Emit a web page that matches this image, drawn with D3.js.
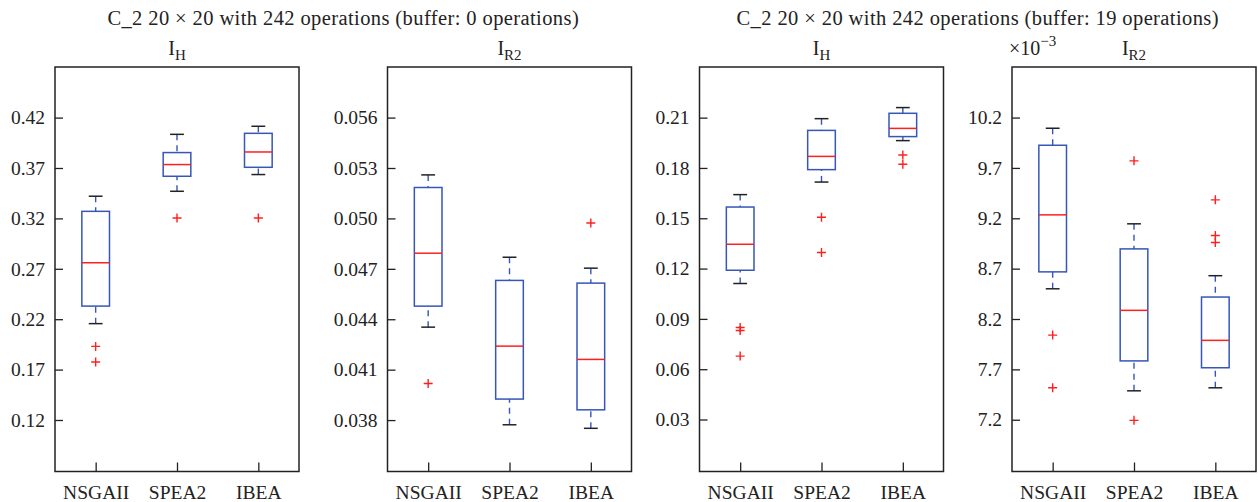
<!DOCTYPE html>
<html>
<head>
<meta charset="utf-8">
<script src="https://cdn.jsdelivr.net/npm/d3@7"></script>
<style>
  body { margin: 0; background: #fff; }
  text { font-family: "Liberation Serif", "DejaVu Serif", serif; fill: #222; }
</style>
</head>
<body>
<div id="chart"></div>
<script>
const width = 1258;
const height = 502;
const panelTop = 67;
const panelBottom = 471.5;
const panelWidth = 244;
const panelLefts = [55, 387.5, 699.5, 1012];

const categories = ["NSGAII", "SPEA2", "IBEA"];
const groupTitles = [
  "C_2 20 \u00d7 20 with 242 operations (buffer: 0 operations)",
  "C_2 20 \u00d7 20 with 242 operations (buffer: 19 operations)"
];

// [lower whisker, q1, median, q3, upper whisker] per algorithm
const ihBuf0 = [[0.2156, 0.233, 0.276, 0.327, 0.342], [0.3469, 0.3618, 0.3734, 0.3853, 0.4034], [0.3635, 0.3707, 0.3859, 0.4044, 0.4114]];
const ihBuf0Outliers = [[0.193, 0.1775], [0.3204], [0.3204]];
const ir2Buf0 = [[0.04353, 0.04478, 0.04793, 0.05184, 0.05259], [0.03772, 0.03925, 0.0424, 0.04631, 0.04769], [0.03751, 0.03861, 0.04161, 0.04615, 0.04704]];
const ir2Buf0Outliers = [[0.04018], [], [0.04973]];
const ihBuf19 = [[0.1111, 0.119, 0.1345, 0.1567, 0.1641], [0.1716, 0.179, 0.1869, 0.2024, 0.2094], [0.1963, 0.1987, 0.2036, 0.2126, 0.216]];
const ihBuf19Outliers = [[0.0849, 0.0831, 0.0678], [0.1506, 0.1296], [0.1877, 0.1822]];
// x 10^-3
const ir2Buf19 = [[8.50, 8.668, 9.234, 9.925, 10.094], [7.487, 7.784, 8.286, 8.896, 9.145], [7.517, 7.716, 7.988, 8.418, 8.63]];
const ir2Buf19Outliers = [[8.04, 7.517], [9.77, 7.194], [9.383, 9.029, 8.96]];

const ihBuf0Ticks = [0.12, 0.17, 0.22, 0.27, 0.32, 0.37, 0.42];
const ir2Buf0Ticks = [0.038, 0.041, 0.044, 0.047, 0.050, 0.053, 0.056];
const ihBuf19Ticks = [0.03, 0.06, 0.09, 0.12, 0.15, 0.18, 0.21];
const ir2Buf19Ticks = [7.2, 7.7, 8.2, 8.7, 9.2, 9.7, 10.2];

const panels = [
  { sub: "H", boxes: ihBuf0, outliers: ihBuf0Outliers, ticks: ihBuf0Ticks, domain: [0.0689, 0.4702], fmt: ".2f" },
  { sub: "R2", boxes: ir2Buf0, outliers: ir2Buf0Outliers, ticks: ir2Buf0Ticks, domain: [0.03494, 0.05901], fmt: ".3f" },
  { sub: "H", boxes: ihBuf19, outliers: ihBuf19Outliers, ticks: ihBuf19Ticks, domain: [-0.001, 0.2402], fmt: ".2f" },
  { sub: "R2", boxes: ir2Buf19, outliers: ir2Buf19Outliers, ticks: ir2Buf19Ticks, domain: [6.686, 10.702], fmt: ".1f", exponent: "\u22123" }
];

const blue = "#3656b8";
const red = "#ff1f1f";
const dark = "#222";

const svg = d3.select("#chart")
  .append("svg")
    .attr("width", width)
    .attr("height", height);

// group titles
groupTitles.forEach((t, i) => {
  const cx = (panelLefts[i * 2] + panelLefts[i * 2 + 1] + panelWidth) / 2;
  svg.append("text")
    .attr("x", cx)
    .attr("y", 25)
    .attr("text-anchor", "middle")
    .style("font-size", "20.5px")
    .style("letter-spacing", "0.4px")
    .text(t);
});

panels.forEach((p, i) => {
  const g = svg.append("g")
    .attr("transform", `translate(${panelLefts[i]},0)`);

  const x = d3.scalePoint()
    .domain(categories)
    .range([0, panelWidth])
    .padding(0.5);
  const y = d3.scaleLinear()
    .domain(p.domain)
    .range([panelBottom, panelTop]);

  const boxW = x.step() * 0.34;
  const capW = boxW * 0.5;

  // subtitle I_H / I_R2
  const st = g.append("text")
    .attr("x", panelWidth / 2)
    .attr("y", 55)
    .attr("text-anchor", "middle")
    .style("font-size", "20px");
  st.append("tspan").text("I");
  st.append("tspan").attr("dy", 5).style("font-size", "15px").text(p.sub);

  if (p.exponent) {
    const ex = g.append("text")
      .attr("x", -3)
      .attr("y", 55)
      .style("font-size", "20px");
    ex.append("tspan").text("\u00d710");
    ex.append("tspan").attr("dy", -9).style("font-size", "15px").text(p.exponent);
  }

  // y axis, ticks inside the frame
  const yAxis = g.append("g")
    .call(d3.axisLeft(y)
      .tickValues(p.ticks)
      .tickFormat(d3.format(p.fmt))
      .tickSizeInner(-8)
      .tickSizeOuter(0)
      .tickPadding(10));
  yAxis.select(".domain").remove();
  yAxis.selectAll(".tick line").attr("stroke", dark).attr("stroke-width", 1.3);
  yAxis.selectAll(".tick text")
    .style("font-family", "'Liberation Serif', serif")
    .style("font-size", "19.5px")
    .attr("fill", dark);

  // x axis, ticks inside the frame
  const xAxis = g.append("g")
    .attr("transform", `translate(0,${panelBottom})`)
    .call(d3.axisBottom(x)
      .tickSizeInner(-9)
      .tickSizeOuter(0)
      .tickPadding(14));
  xAxis.select(".domain").remove();
  xAxis.selectAll(".tick line").attr("stroke", dark).attr("stroke-width", 1.3);
  xAxis.selectAll(".tick text")
    .style("font-family", "'Liberation Serif', serif")
    .style("font-size", "19.5px")
    .attr("fill", dark);

  // frame
  g.append("rect")
    .attr("x", 0)
    .attr("y", panelTop)
    .attr("width", panelWidth)
    .attr("height", panelBottom - panelTop)
    .attr("fill", "none")
    .attr("stroke", dark)
    .attr("stroke-width", 1.5);

  const box = g.selectAll(".box")
    .data(p.boxes)
    .join("g")
      .attr("class", "box")
      .attr("transform", (d, j) => `translate(${x(categories[j])},0)`);

  // dashed whiskers
  box.append("line")
    .attr("x1", 0).attr("x2", 0)
    .attr("y1", d => y(d[4])).attr("y2", d => y(d[3]))
    .attr("stroke", blue).attr("stroke-width", 1.4)
    .attr("stroke-dasharray", "6,5");
  box.append("line")
    .attr("x1", 0).attr("x2", 0)
    .attr("y1", d => y(d[0])).attr("y2", d => y(d[1]))
    .attr("stroke", blue).attr("stroke-width", 1.4)
    .attr("stroke-dasharray", "6,5");

  // caps
  box.selectAll(".cap")
    .data(d => [d[0], d[4]])
    .join("line")
      .attr("class", "cap")
      .attr("x1", -capW / 2).attr("x2", capW / 2)
      .attr("y1", v => y(v)).attr("y2", v => y(v))
      .attr("stroke", dark).attr("stroke-width", 1.5);

  // box
  box.append("rect")
    .attr("x", -boxW / 2)
    .attr("y", d => y(d[3]))
    .attr("width", boxW)
    .attr("height", d => y(d[1]) - y(d[3]))
    .attr("fill", "none")
    .attr("stroke", blue)
    .attr("stroke-width", 1.5);

  // median
  box.append("line")
    .attr("x1", -boxW / 2).attr("x2", boxW / 2)
    .attr("y1", d => y(d[2])).attr("y2", d => y(d[2]))
    .attr("stroke", red).attr("stroke-width", 1.5);

  // outliers
  p.outliers.forEach((vals, j) => {
    g.selectAll(null)
      .data(vals)
      .join("path")
        .attr("transform", v => `translate(${x(categories[j])},${y(v)})`)
        .attr("d", "M-4.5,0H4.5M0,-4.5V4.5")
        .attr("stroke", red)
        .attr("stroke-width", 1.4)
        .attr("fill", "none");
  });
});
</script>
</body>
</html>
